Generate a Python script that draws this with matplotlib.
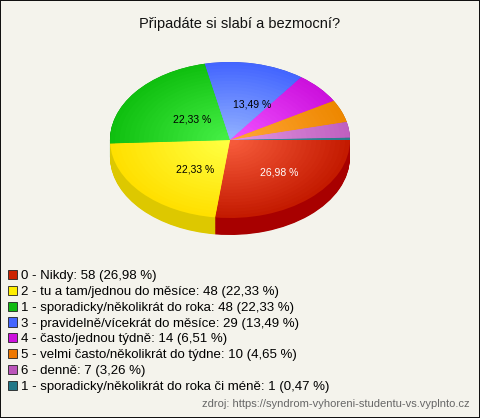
import numpy as np
import matplotlib
matplotlib.use('Agg')
import matplotlib.pyplot as plt
from matplotlib.patches import Patch
from matplotlib.colors import to_rgb

plt.rcParams['font.family'] = ['Liberation Sans', 'DejaVu Sans']

title = 'Připadáte si slabí a bezmocní?'
labels = ['0 - Nikdy', '2 - tu a tam/jednou do měsíce', '1 - sporadicky/několikrát do roka',
          '3 - pravidelně/vícekrát do měsíce', '4 - často/jednou týdně',
          '5 - velmi často/několikrát do týdne', '6 - denně',
          '1 - sporadicky/několikrát do roka či méně']
counts = [58, 48, 48, 29, 14, 10, 7, 1]
percents = ['26,98', '22,33', '22,33', '13,49', '6,51', '4,65', '3,26', '0,47']

# barvy: okraj, střed, bok, legenda
edge_colors = ['#C41A00', '#FFE000', '#10C010', '#4466FF', '#CC11DD', '#EE8800', '#C060C0', '#2A7A8A']
center_colors = ['#F55A3A', '#FFFF40', '#44EE44', '#8FAEFF', '#F050FF', '#FFA535', '#E095E0', '#3A8A9A']
side_colors = ['#A80000', '#DDC800', '#0A9A0A', '#3050CC', '#A000B0', '#C06800', '#A050A0', '#1A6070']
legend_colors = ['#CC2200', '#FFEE00', '#11BB11', '#4466FF', '#CC11DD', '#EE7700', '#BB55BB', '#227788']

bg = '#F4F3EC'
fig = plt.figure(figsize=(4.8, 4.18), dpi=100, facecolor=bg, linewidth=1.2, edgecolor='#111111')

W, H = 480, 418
depth = 17 / 78
ax = fig.add_axes([110 / W, (H - 235) / H, 240 / W, 173 / H])
ax.set_facecolor('none')

# boky - vrstvené koláče posunuté dolů
for k in np.linspace(depth, 0.0, 30):
    ax.pie(counts, colors=side_colors, startangle=0, counterclock=False,
           center=(0, -k), wedgeprops=dict(linewidth=0, antialiased=True))


def blend(c1, c2, t):
    a, b = np.array(to_rgb(c1)), np.array(to_rgb(c2))
    return tuple(a + (b - a) * t)


# horní plocha s radiálním přechodem
def pct_label(p):
    return ('%.2f %%' % p).replace('.', ',') if p > 10 else ''


radii = np.linspace(1.0, 0.08, 24)
for i, r in enumerate(radii):
    t = i / (len(radii) - 1)
    cols = [blend(e, c, t) for e, c in zip(edge_colors, center_colors)]
    if i == 0:
        wedges, texts, autotexts = ax.pie(counts, colors=cols, startangle=0, counterclock=False,
                                          radius=r, autopct=pct_label, pctdistance=0.5,
                                          wedgeprops=dict(linewidth=0),
                                          textprops=dict(fontsize=7.5, color='black'))
    else:
        ax.pie(counts, colors=cols, startangle=0, counterclock=False, radius=r,
               wedgeprops=dict(linewidth=0))
autotexts[0].set_color('white')
for t in autotexts:
    x, y = t.get_position()
    t.set_position((x + 0.08, y - 0.04))

ax.set_aspect('auto')
ax.set_xlim(-1, 1)
ax.set_ylim(-1 - depth, 1)
ax.axis('off')

fig.text(0.5, 1 - 24 / H, title, ha='center', va='center', fontsize=10.5, color='#111111')

handles = [Patch(facecolor=c, edgecolor='#222222', linewidth=0.6) for c in legend_colors]
leg_labels = ['%s: %d (%s %%)' % (l, n, p) for l, n, p in zip(labels, counts, percents)]
fig.legend(handles, leg_labels, loc='upper left', bbox_to_anchor=(8 / W, 1 - 270 / H),
           frameon=False, fontsize=9.5, handlelength=0.7, handleheight=0.7,
           handletextpad=0.3, labelspacing=0.27, borderpad=0, borderaxespad=0)

fig.text(470 / W, 1 - 404 / H, 'zdroj: https://syndrom-vyhoreni-studentu-vs.vyplnto.cz',
         ha='right', va='center', fontsize=8, color='#666666')

fig.savefig('out.png', dpi=100, facecolor=bg)
